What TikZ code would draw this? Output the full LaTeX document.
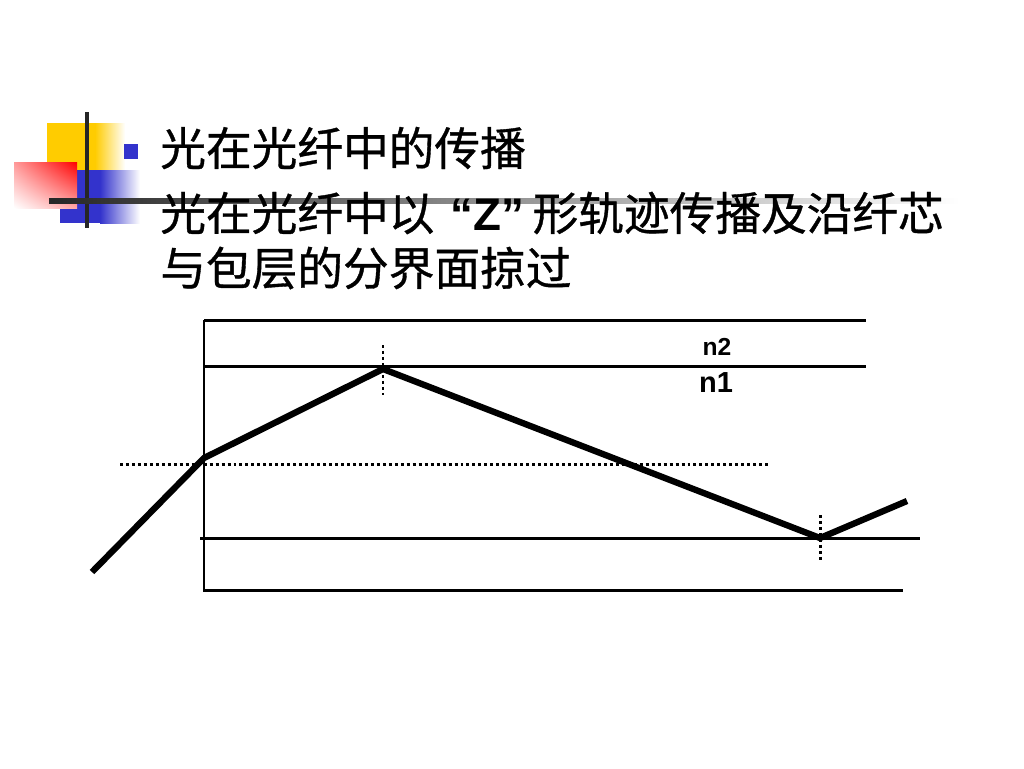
\documentclass[tikz,border=0pt]{standalone}
\usepackage{fontspec}
\setmainfont{Liberation Sans}
\newfontfamily\cjk[FakeBold=0.8]{Noto Sans CJK SC}
\usetikzlibrary{positioning, calc, shadings}
\definecolor{decoyellow}{RGB}{255,204,0}
\definecolor{decoblue}{RGB}{51,51,204}
\tikzstyle{bodytext} = [anchor=west, inner sep=0pt, font=\fontsize{26pt}{30pt}\selectfont]
\tikzstyle{fibre} = [line width=1.7pt]
\tikzstyle{ray} = [line width=3.6pt, line join=miter]
\tikzstyle{normal} = [line width=1.7pt, dash pattern=on 1.7pt off 1.7pt]
\tikzstyle{index} = [inner sep=0pt, font=\bfseries]

\begin{document}
\begin{tikzpicture}[x=0.02cm, y=-0.02cm]
\useasboundingbox (0,0) rectangle (1024,768);

% Decorazione in alto a sinistra
\fill[decoyellow] (47,123) rectangle (95,170);
\shade[left color=decoyellow, right color=white] (95,123) rectangle (125,170);
\fill[decoblue] (60,170) rectangle (100,223);
\shade[left color=decoblue, right color=white] (100,170) rectangle (140,223);
\shade[upper right=red, upper left=red!40!white, lower right=red!35!white, lower left=white] (14,162) rectangle (77,208);
\draw[line width=2.2pt, black!85] (87,112) -- (87,228);
\shade[left color=black!85, right color=white] (49,198.5) rectangle (960,203.5);
\fill[decoblue] (124,144) rectangle (138,159);

% Testo
\node (title) [bodytext] at (160,148) {\cjk 光在光纤中的传播};
\node (lineA) [bodytext] at (160,213) {{\cjk 光在光纤中以}\hspace{9pt}{\bfseries “Z”}\hspace{5pt}{\cjk 形轨迹传播及沿纤芯}};
\node (lineB) [bodytext] at (160,268) {\cjk 与包层的分界面掠过};

% Fibra: strati
\draw[fibre] (204,320) -- (204,592);
\draw[fibre] (204,320) -- (866,320);
\draw[fibre] (204,366) -- (866,366);
\draw[fibre] (200,538) -- (920,538);
\draw[fibre] (204,590) -- (903,590);
\draw[normal] (120,464) -- (768,464);

% Percorso del raggio
\coordinate (entry) at (92,572);
\coordinate (hitA) at (204,458);
\coordinate (peak) at (383,369);
\coordinate (valley) at (820,538);
\coordinate (exit) at (907,501);
\draw[normal] ($(peak)+(0,-24)$) -- ($(peak)+(0,26)$);
\draw[normal] ($(valley)+(0,-23)$) -- ($(valley)+(0,24)$);
\draw[ray] (entry) -- (hitA) -- (peak) -- (valley) -- (exit);

% Indici di rifrazione
\node (ntwo) [index, font=\bfseries\fontsize{14pt}{16pt}\selectfont] at (717,347) {n2};
\node (none) [index, font=\bfseries\fontsize{16.5pt}{18pt}\selectfont] at (716,383) {n1};

\end{tikzpicture}
\end{document}
